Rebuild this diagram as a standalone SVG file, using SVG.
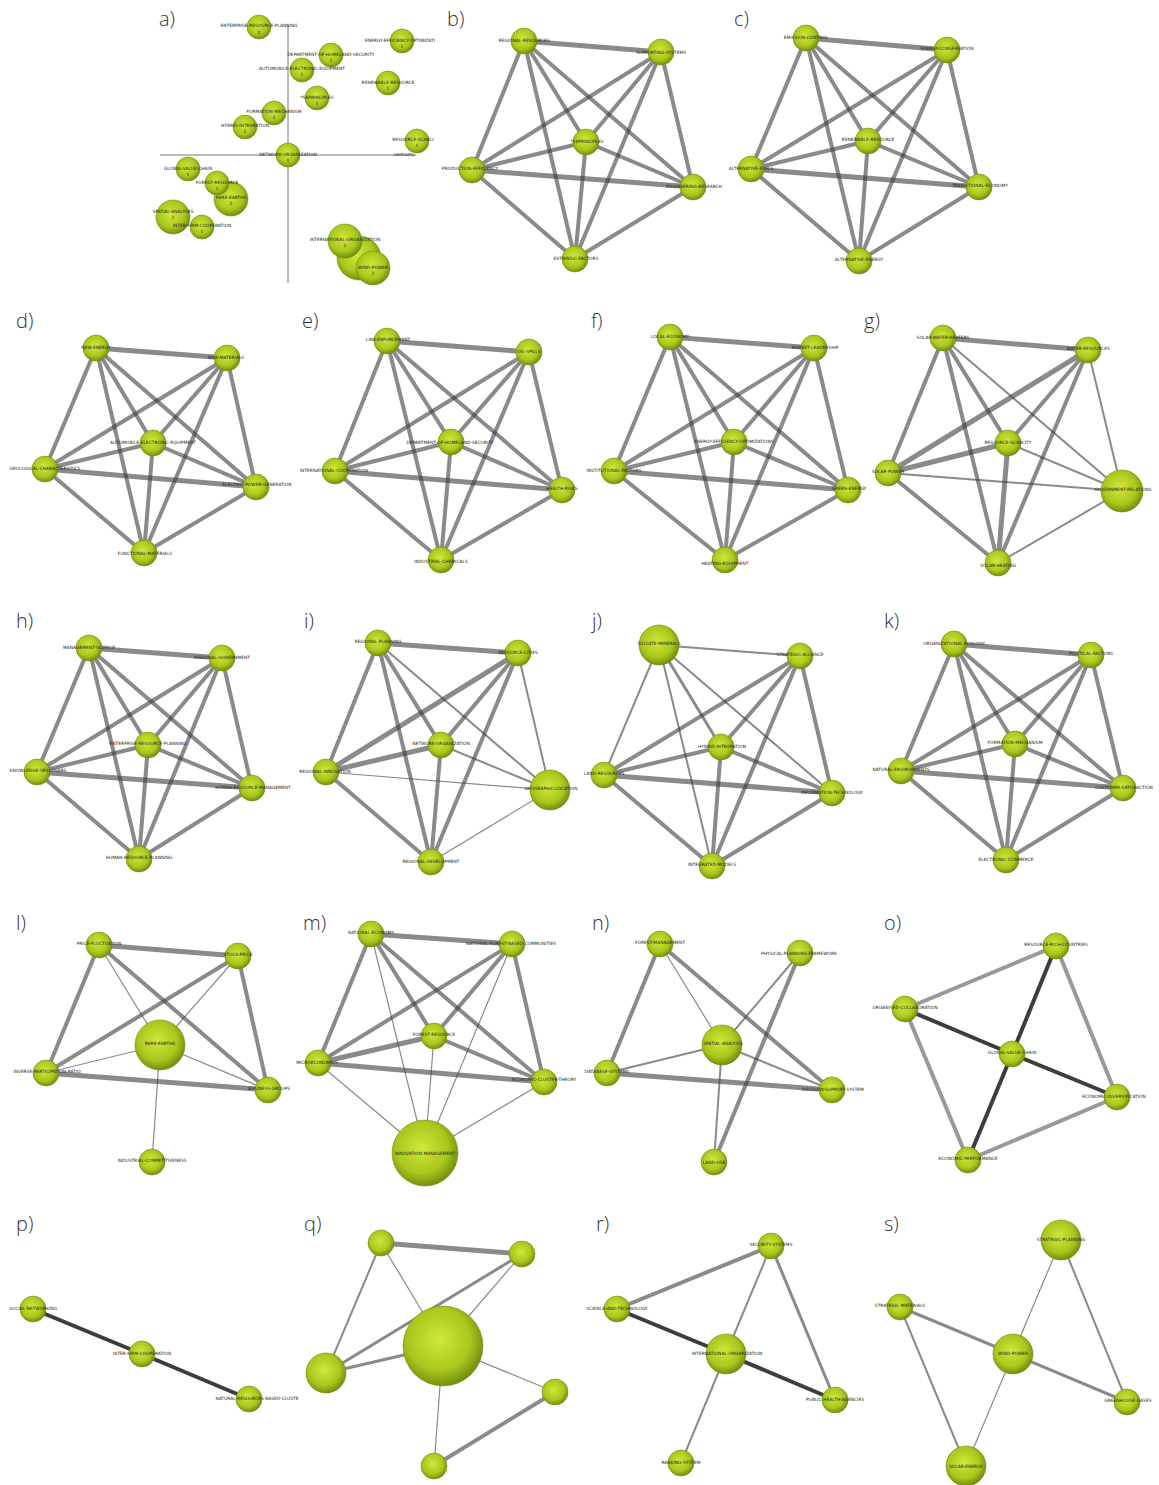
<svg xmlns="http://www.w3.org/2000/svg" width="1159" height="1485" viewBox="0 0 1159 1485">
<defs>
<radialGradient id="ball" cx="0.45" cy="0.42" r="0.6">
<stop offset="0" stop-color="#d0e83a"/>
<stop offset="0.65" stop-color="#a9c71c"/>
<stop offset="1" stop-color="#6c890e"/>
</radialGradient>
<style>
.n{fill:url(#ball);stroke:#72900f;stroke-width:0.6}
.t{font-family:"DejaVu Sans",sans-serif;font-size:4.4px;fill:#222;text-anchor:middle;dominant-baseline:central}
.p{font-family:"Open Sans","Noto Sans",sans-serif;font-size:20px;font-weight:300;fill:#333}
.e{stroke:#3c3c3c;stroke-opacity:0.6;stroke-linecap:round;stroke-width:4}
.e5{stroke-width:5}
.w{stroke-width:2}
.h{stroke-width:1.2}
.m{stroke-width:3}
.d{stroke:#333;stroke-opacity:0.95}
.g{stroke:#999;stroke-opacity:1}
.ax{stroke:#777;stroke-width:1}
</style>
</defs>
<rect width="1159" height="1485" fill="#fff"/>

<g id="panel-labels">
<text class="p" x="159" y="26">a)</text>
<text class="p" x="447" y="26">b)</text>
<text class="p" x="734" y="26">c)</text>
<text class="p" x="16" y="328">d)</text>
<text class="p" x="302" y="328">e)</text>
<text class="p" x="591" y="328">f)</text>
<text class="p" x="864" y="328">g)</text>
<text class="p" x="16" y="628">h)</text>
<text class="p" x="304" y="628">i)</text>
<text class="p" x="592" y="628">j)</text>
<text class="p" x="884" y="628">k)</text>
<text class="p" x="16" y="930">l)</text>
<text class="p" x="303" y="930">m)</text>
<text class="p" x="592" y="930">n)</text>
<text class="p" x="884" y="930">o)</text>
<text class="p" x="16" y="1231">p)</text>
<text class="p" x="304" y="1231">q)</text>
<text class="p" x="596" y="1231">r)</text>
<text class="p" x="884" y="1231">s)</text>
</g>

<!-- Panel a: strategic diagram -->
<g id="a-axes">
<line class="ax" x1="288" y1="25" x2="288" y2="283"/>
<line class="ax" x1="160" y1="155" x2="416" y2="155"/>
<text class="t" x="404" y="154">centrality</text>
</g>
<g id="a-hidden"><circle class="n" cx="359" cy="258" r="22"/></g>
<g id="a-erp"><circle class="n" cx="259" cy="27" r="12"/><text class="t" x="259" y="25">ENTERPRISE-RESOURCE-PLANNING</text><text class="t" x="259" y="32">1</text></g>
<g id="a-eeo"><circle class="n" cx="402" cy="41" r="12"/><text class="t" x="400" y="40">ENERGY-EFFICIENCY-OPTIMIZATI</text><text class="t" x="402" y="46">1</text></g>
<g id="a-dhs"><circle class="n" cx="331" cy="55" r="12"/><text class="t" x="331" y="54">DEPARTMENT-OF-HOMELAND-SECURITY</text><text class="t" x="331" y="60">1</text></g>
<g id="a-aee"><circle class="n" cx="302" cy="70" r="12"/><text class="t" x="302" y="68">AUTOMOBILE-ELECTRONIC-EQUIPMENT</text><text class="t" x="302" y="74">1</text></g>
<g id="a-rr"><circle class="n" cx="388" cy="83" r="12"/><text class="t" x="388" y="82">RENEWABLE-RESOURCE</text><text class="t" x="388" y="88">1</text></g>
<g id="a-5k"><circle class="n" cx="317" cy="98" r="12"/><text class="t" x="317" y="97">*5KPRINCIPLES</text><text class="t" x="317" y="103">1</text></g>
<g id="a-fm"><circle class="n" cx="274" cy="113" r="12"/><text class="t" x="274" y="111">FORMATION-MECHANISM</text><text class="t" x="274" y="117">1</text></g>
<g id="a-hi"><circle class="n" cx="245" cy="127" r="12"/><text class="t" x="245" y="125">HYBRID-INTEGRATION</text><text class="t" x="245" y="131">1</text></g>
<g id="a-rs"><circle class="n" cx="417" cy="141" r="12"/><text class="t" x="413" y="139">RESOURCE-SCARCI</text><text class="t" x="417" y="145">1</text></g>
<g id="a-no"><circle class="n" cx="288" cy="155" r="12"/><text class="t" x="288" y="154">NETWORK-ORGANIZATION</text><text class="t" x="288" y="160">1</text></g>
<g id="a-gvc"><circle class="n" cx="188" cy="169" r="12"/><text class="t" x="188" y="168">GLOBAL-VALUE-CHAIN</text><text class="t" x="188" y="174">1</text></g>
<g id="a-re"><circle class="n" cx="231" cy="199" r="17"/><text class="t" x="231" y="197">RARE-EARTHS</text><text class="t" x="231" y="203">2</text></g>
<g id="a-fr"><circle class="n" cx="217" cy="183" r="12"/><text class="t" x="217" y="182">FOREST-RESOURCE</text><text class="t" x="217" y="188">1</text></g>
<g id="a-sa"><circle class="n" cx="173" cy="217" r="17"/><text class="t" x="173" y="211">SPATIAL-ANALYSES</text><text class="t" x="173" y="217">2</text></g>
<g id="a-ifc"><circle class="n" cx="202" cy="227" r="12"/><text class="t" x="202" y="225">INTER-FIRM-COOPERATION</text><text class="t" x="202" y="231">1</text></g>
<g id="a-io"><circle class="n" cx="345" cy="241" r="17"/><text class="t" x="345" y="239">INTERNATIONAL-ORGANIZATION</text><text class="t" x="345" y="245">2</text></g>
<g id="a-wp"><circle class="n" cx="373" cy="268" r="17"/><text class="t" x="373" y="267">WIND-POWER</text><text class="t" x="373" y="273">2</text></g>

<!-- Panel b -->
<g id="b-edges">
<line class="e e5" x1="524" y1="41" x2="661" y2="52"/>
<line class="e" x1="524" y1="41" x2="586" y2="142"/>
<line class="e" x1="524" y1="41" x2="472" y2="170"/>
<line class="e" x1="524" y1="41" x2="693" y2="187"/>
<line class="e" x1="524" y1="41" x2="575" y2="259"/>
<line class="e" x1="661" y1="52" x2="586" y2="142"/>
<line class="e" x1="661" y1="52" x2="472" y2="170"/>
<line class="e" x1="661" y1="52" x2="693" y2="187"/>
<line class="e" x1="661" y1="52" x2="575" y2="259"/>
<line class="e" x1="586" y1="142" x2="472" y2="170"/>
<line class="e" x1="586" y1="142" x2="693" y2="187"/>
<line class="e" x1="586" y1="142" x2="575" y2="259"/>
<line class="e e5" x1="472" y1="170" x2="693" y2="187"/>
<line class="e" x1="472" y1="170" x2="575" y2="259"/>
<line class="e" x1="693" y1="187" x2="575" y2="259"/>
</g>
<g id="b-rr"><circle class="n" cx="524" cy="41" r="13"/><text class="t" x="524" y="40">REGIONAL-RESOURCES</text></g>
<g id="b-ss"><circle class="n" cx="661" cy="52" r="13"/><text class="t" x="661" y="52">SUPPORTING-SYSTEMS</text></g>
<g id="b-5k"><circle class="n" cx="586" cy="142" r="13"/><text class="t" x="587" y="141">*5KPRINCIPLES</text></g>
<g id="b-pe"><circle class="n" cx="472" cy="170" r="13"/><text class="t" x="470" y="168">PRODUCTION-EFFICIENCY</text></g>
<g id="b-er"><circle class="n" cx="693" cy="187" r="13"/><text class="t" x="694" y="186">ENGINEERING-RESEARCH</text></g>
<g id="b-ef"><circle class="n" cx="575" cy="259" r="13"/><text class="t" x="576" y="258">EXTRINSIC-FACTORS</text></g>

<!-- Panel c -->
<g id="c-edges">
<line class="e e5" x1="806" y1="38" x2="947" y2="50"/>
<line class="e" x1="806" y1="38" x2="868" y2="141"/>
<line class="e" x1="806" y1="38" x2="751" y2="169"/>
<line class="e" x1="806" y1="38" x2="979" y2="187"/>
<line class="e" x1="806" y1="38" x2="859" y2="261"/>
<line class="e" x1="947" y1="50" x2="868" y2="141"/>
<line class="e" x1="947" y1="50" x2="751" y2="169"/>
<line class="e" x1="947" y1="50" x2="979" y2="187"/>
<line class="e" x1="947" y1="50" x2="859" y2="261"/>
<line class="e" x1="868" y1="141" x2="751" y2="169"/>
<line class="e" x1="868" y1="141" x2="979" y2="187"/>
<line class="e" x1="868" y1="141" x2="859" y2="261"/>
<line class="e e5" x1="751" y1="169" x2="979" y2="187"/>
<line class="e" x1="751" y1="169" x2="859" y2="261"/>
<line class="e" x1="979" y1="187" x2="859" y2="261"/>
</g>
<g id="c-ec"><circle class="n" cx="806" cy="38" r="13"/><text class="t" x="806" y="37">EMISSION-CONTROL</text></g>
<g id="c-ecn"><circle class="n" cx="947" cy="50" r="13"/><text class="t" x="947" y="48">ENERGY-CONSERVATION</text></g>
<g id="c-rr"><circle class="n" cx="868" cy="141" r="13"/><text class="t" x="868" y="139">RENEWABLE-RESOURCE</text></g>
<g id="c-af"><circle class="n" cx="751" cy="169" r="13"/><text class="t" x="751" y="168">ALTERNATIVE-FUELS</text></g>
<g id="c-te"><circle class="n" cx="979" cy="187" r="13"/><text class="t" x="980" y="185">TRANSITIONAL-ECONOMY</text></g>
<g id="c-ae"><circle class="n" cx="859" cy="261" r="13"/><text class="t" x="859" y="259">ALTERNATIVE-ENERGY</text></g>

<!-- Panel d -->
<g id="d-edges">
<line class="e e5" x1="96" y1="348" x2="227" y2="358"/>
<line class="e" x1="96" y1="348" x2="153" y2="443"/>
<line class="e" x1="96" y1="348" x2="45" y2="469"/>
<line class="e" x1="96" y1="348" x2="256" y2="487"/>
<line class="e" x1="96" y1="348" x2="144" y2="553"/>
<line class="e" x1="227" y1="358" x2="153" y2="443"/>
<line class="e" x1="227" y1="358" x2="45" y2="469"/>
<line class="e" x1="227" y1="358" x2="256" y2="487"/>
<line class="e" x1="227" y1="358" x2="144" y2="553"/>
<line class="e" x1="153" y1="443" x2="45" y2="469"/>
<line class="e" x1="153" y1="443" x2="256" y2="487"/>
<line class="e" x1="153" y1="443" x2="144" y2="553"/>
<line class="e e5" x1="45" y1="469" x2="256" y2="487"/>
<line class="e" x1="45" y1="469" x2="144" y2="553"/>
<line class="e" x1="256" y1="487" x2="144" y2="553"/>
</g>
<g id="d-ne"><circle class="n" cx="96" cy="348" r="13"/><text class="t" x="96" y="347">NEW-ENERGY</text></g>
<g id="d-nm"><circle class="n" cx="227" cy="358" r="13"/><text class="t" x="226" y="357">NEW-MATERIALS</text></g>
<g id="d-aee"><circle class="n" cx="153" cy="443" r="13"/><text class="t" x="153" y="442">AUTOMOBILE-ELECTRONIC-EQUIPMENT</text></g>
<g id="d-gc"><circle class="n" cx="45" cy="469" r="13"/><text class="t" x="45" y="468">GEOLOGICAL-CHARACTERISTICS</text></g>
<g id="d-epg"><circle class="n" cx="256" cy="487" r="13"/><text class="t" x="257" y="484">ELECTRIC-POWER-GENERATION</text></g>
<g id="d-fm"><circle class="n" cx="144" cy="553" r="13"/><text class="t" x="145" y="553">FUNCTIONAL-MATERIALS</text></g>

<!-- Panel e -->
<g id="e-edges">
<line class="e e5" x1="387" y1="341" x2="529" y2="352"/>
<line class="e" x1="387" y1="341" x2="451" y2="442"/>
<line class="e" x1="387" y1="341" x2="335" y2="471"/>
<line class="e" x1="387" y1="341" x2="562" y2="490"/>
<line class="e" x1="387" y1="341" x2="441" y2="560"/>
<line class="e" x1="529" y1="352" x2="451" y2="442"/>
<line class="e" x1="529" y1="352" x2="335" y2="471"/>
<line class="e" x1="529" y1="352" x2="562" y2="490"/>
<line class="e" x1="529" y1="352" x2="441" y2="560"/>
<line class="e" x1="451" y1="442" x2="335" y2="471"/>
<line class="e" x1="451" y1="442" x2="562" y2="490"/>
<line class="e" x1="451" y1="442" x2="441" y2="560"/>
<line class="e e5" x1="335" y1="471" x2="562" y2="490"/>
<line class="e" x1="335" y1="471" x2="441" y2="560"/>
<line class="e" x1="562" y1="490" x2="441" y2="560"/>
</g>
<g id="e-le"><circle class="n" cx="387" cy="341" r="13"/><text class="t" x="388" y="339">LAW-ENFORCEMENT</text></g>
<g id="e-os"><circle class="n" cx="529" cy="352" r="13"/><text class="t" x="529" y="351">OIL-SPILLS</text></g>
<g id="e-dhs"><circle class="n" cx="451" cy="442" r="13"/><text class="t" x="450" y="442">DEPARTMENT-OF-HOMELAND-SECURITY</text></g>
<g id="e-ic"><circle class="n" cx="335" cy="471" r="13"/><text class="t" x="334" y="470">INTERNATIONAL-COOPERATION</text></g>
<g id="e-hr"><circle class="n" cx="562" cy="490" r="13"/><text class="t" x="562" y="488">HEALTH-RISKS</text></g>
<g id="e-ich"><circle class="n" cx="441" cy="560" r="13"/><text class="t" x="441" y="561">INDUSTRIAL-CHEMICALS</text></g>

<!-- Panel f -->
<g id="f-edges">
<line class="e e5" x1="670" y1="337" x2="814" y2="348"/>
<line class="e" x1="670" y1="337" x2="734" y2="442"/>
<line class="e" x1="670" y1="337" x2="614" y2="471"/>
<line class="e" x1="670" y1="337" x2="848" y2="490"/>
<line class="e" x1="670" y1="337" x2="725" y2="560"/>
<line class="e" x1="814" y1="348" x2="734" y2="442"/>
<line class="e" x1="814" y1="348" x2="614" y2="471"/>
<line class="e" x1="814" y1="348" x2="848" y2="490"/>
<line class="e" x1="814" y1="348" x2="725" y2="560"/>
<line class="e" x1="734" y1="442" x2="614" y2="471"/>
<line class="e" x1="734" y1="442" x2="848" y2="490"/>
<line class="e" x1="734" y1="442" x2="725" y2="560"/>
<line class="e e5" x1="614" y1="471" x2="848" y2="490"/>
<line class="e" x1="614" y1="471" x2="725" y2="560"/>
<line class="e" x1="848" y1="490" x2="725" y2="560"/>
</g>
<g id="f-le"><circle class="n" cx="670" cy="337" r="13"/><text class="t" x="670" y="336">LOCAL-ECONOMY</text></g>
<g id="f-ml"><circle class="n" cx="814" cy="348" r="13"/><text class="t" x="815" y="347">MARKET-LEADERSHIP</text></g>
<g id="f-eeo"><circle class="n" cx="734" cy="442" r="13"/><text class="t" x="734" y="441">ENERGY-EFFICIENCY-OPTIMIZATIONS</text></g>
<g id="f-if"><circle class="n" cx="614" cy="471" r="13"/><text class="t" x="614" y="470">INSTITUTIONAL-FACTORS</text></g>
<g id="f-ge"><circle class="n" cx="848" cy="490" r="13"/><text class="t" x="849" y="488">GREEN-ENERGY</text></g>
<g id="f-he"><circle class="n" cx="725" cy="560" r="13"/><text class="t" x="725" y="563">HEATING-EQUIPMENT</text></g>

<!-- Panel g -->
<g id="g-edges">
<line class="e e5" x1="943" y1="338" x2="1088" y2="350"/>
<line class="e" x1="943" y1="338" x2="1008" y2="443"/>
<line class="e" x1="943" y1="338" x2="888" y2="473"/>
<line class="e w" x1="943" y1="338" x2="1122" y2="491"/>
<line class="e" x1="943" y1="338" x2="998" y2="563"/>
<line class="e" x1="1088" y1="350" x2="1008" y2="443"/>
<line class="e e5" x1="1088" y1="350" x2="888" y2="473"/>
<line class="e w" x1="1088" y1="350" x2="1122" y2="491"/>
<line class="e" x1="1088" y1="350" x2="998" y2="563"/>
<line class="e e5" x1="1008" y1="443" x2="888" y2="473"/>
<line class="e w" x1="1008" y1="443" x2="1122" y2="491"/>
<line class="e e5" x1="1008" y1="443" x2="998" y2="563"/>
<line class="e w" x1="888" y1="473" x2="1122" y2="491"/>
<line class="e" x1="888" y1="473" x2="998" y2="563"/>
<line class="e w" x1="1122" y1="491" x2="998" y2="563"/>
</g>
<g id="g-swh"><circle class="n" cx="943" cy="338" r="13"/><text class="t" x="943" y="337">SOLAR-WATER-HEATERS</text></g>
<g id="g-wr"><circle class="n" cx="1088" cy="350" r="13"/><text class="t" x="1088" y="348">WATER-RESOURCES</text></g>
<g id="g-rs"><circle class="n" cx="1008" cy="443" r="13"/><text class="t" x="1008" y="442">RESOURCE-SCARCITY</text></g>
<g id="g-sp"><circle class="n" cx="888" cy="473" r="13"/><text class="t" x="888" y="471">SOLAR-POWER</text></g>
<g id="g-gr"><circle class="n" cx="1122" cy="491" r="21"/><text class="t" x="1123" y="489">GOVERNMENT-RELATIONS</text></g>
<g id="g-sh"><circle class="n" cx="998" cy="563" r="13"/><text class="t" x="998" y="565">SOLAR-HEATING</text></g>

<!-- Panel h -->
<g id="h-edges">
<line class="e e5" x1="89" y1="648" x2="222" y2="658"/>
<line class="e" x1="89" y1="648" x2="148" y2="745"/>
<line class="e" x1="89" y1="648" x2="37" y2="772"/>
<line class="e" x1="89" y1="648" x2="252" y2="788"/>
<line class="e" x1="89" y1="648" x2="139" y2="859"/>
<line class="e" x1="222" y1="658" x2="148" y2="745"/>
<line class="e" x1="222" y1="658" x2="37" y2="772"/>
<line class="e" x1="222" y1="658" x2="252" y2="788"/>
<line class="e" x1="222" y1="658" x2="139" y2="859"/>
<line class="e" x1="148" y1="745" x2="37" y2="772"/>
<line class="e" x1="148" y1="745" x2="252" y2="788"/>
<line class="e" x1="148" y1="745" x2="139" y2="859"/>
<line class="e e5" x1="37" y1="772" x2="252" y2="788"/>
<line class="e" x1="37" y1="772" x2="139" y2="859"/>
<line class="e" x1="252" y1="788" x2="139" y2="859"/>
</g>
<g id="h-ms"><circle class="n" cx="89" cy="648" r="13"/><text class="t" x="89" y="647">MANAGEMENT-SCIENCE</text></g>
<g id="h-rg"><circle class="n" cx="222" cy="658" r="13"/><text class="t" x="222" y="657">REGIONAL-GOVERNMENT</text></g>
<g id="h-erp"><circle class="n" cx="148" cy="745" r="13"/><text class="t" x="148" y="743">ENTERPRISE-RESOURCE-PLANNING</text></g>
<g id="h-ks"><circle class="n" cx="37" cy="772" r="13"/><text class="t" x="38" y="770">KNOWLEDGE-SPILLOVERS</text></g>
<g id="h-hrm"><circle class="n" cx="252" cy="788" r="13"/><text class="t" x="253" y="787">HUMAN-RESOURCE-MANAGEMENT</text></g>
<g id="h-hrp"><circle class="n" cx="139" cy="859" r="13"/><text class="t" x="139" y="857">HUMAN-RESOURCE-PLANNING</text></g>

<!-- Panel i -->
<g id="i-edges">
<line class="e e5" x1="378" y1="643" x2="518" y2="653"/>
<line class="e" x1="378" y1="643" x2="441" y2="745"/>
<line class="e" x1="378" y1="643" x2="326" y2="772"/>
<line class="e w" x1="378" y1="643" x2="550" y2="790"/>
<line class="e" x1="378" y1="643" x2="431" y2="862"/>
<line class="e" x1="518" y1="653" x2="441" y2="745"/>
<line class="e e5" x1="518" y1="653" x2="326" y2="772"/>
<line class="e w" x1="518" y1="653" x2="550" y2="790"/>
<line class="e" x1="518" y1="653" x2="431" y2="862"/>
<line class="e e5" x1="441" y1="745" x2="326" y2="772"/>
<line class="e w" x1="441" y1="745" x2="550" y2="790"/>
<line class="e" x1="441" y1="745" x2="431" y2="862"/>
<line class="e h" x1="326" y1="772" x2="550" y2="790"/>
<line class="e" x1="326" y1="772" x2="431" y2="862"/>
<line class="e h" x1="550" y1="790" x2="431" y2="862"/>
</g>
<g id="i-rp"><circle class="n" cx="378" cy="643" r="13"/><text class="t" x="378" y="641">REGIONAL-PLANNING</text></g>
<g id="i-rc"><circle class="n" cx="518" cy="653" r="13"/><text class="t" x="518" y="652">RESOURCE-CITIES</text></g>
<g id="i-no"><circle class="n" cx="441" cy="745" r="13"/><text class="t" x="441" y="743">NETWORK-ORGANIZATION</text></g>
<g id="i-ri"><circle class="n" cx="326" cy="772" r="13"/><text class="t" x="325" y="771">REGIONAL-INNOVATION</text></g>
<g id="i-gl"><circle class="n" cx="550" cy="790" r="20"/><text class="t" x="551" y="788">GEOGRAPHIC-LOCATION</text></g>
<g id="i-rd"><circle class="n" cx="431" cy="862" r="13"/><text class="t" x="431" y="861">REGIONAL-DEVELOPMENT</text></g>

<!-- Panel j -->
<g id="j-edges">
<line class="e w" x1="659" y1="645" x2="800" y2="656"/>
<line class="e m" x1="659" y1="645" x2="721" y2="747"/>
<line class="e w" x1="659" y1="645" x2="604" y2="775"/>
<line class="e w" x1="659" y1="645" x2="832" y2="793"/>
<line class="e w" x1="659" y1="645" x2="712" y2="866"/>
<line class="e" x1="800" y1="656" x2="721" y2="747"/>
<line class="e" x1="800" y1="656" x2="604" y2="775"/>
<line class="e" x1="800" y1="656" x2="832" y2="793"/>
<line class="e" x1="800" y1="656" x2="712" y2="866"/>
<line class="e" x1="721" y1="747" x2="604" y2="775"/>
<line class="e" x1="721" y1="747" x2="832" y2="793"/>
<line class="e" x1="721" y1="747" x2="712" y2="866"/>
<line class="e e5" x1="604" y1="775" x2="832" y2="793"/>
<line class="e" x1="604" y1="775" x2="712" y2="866"/>
<line class="e" x1="832" y1="793" x2="712" y2="866"/>
</g>
<g id="j-sm"><circle class="n" cx="659" cy="645" r="20"/><text class="t" x="659" y="643">SILICATE-MINERALS</text></g>
<g id="j-sa"><circle class="n" cx="800" cy="656" r="13"/><text class="t" x="800" y="654">STRATEGIC-ALLIANCE</text></g>
<g id="j-hi"><circle class="n" cx="721" cy="747" r="13"/><text class="t" x="722" y="746">HYBRID-INTEGRATION</text></g>
<g id="j-lr"><circle class="n" cx="604" cy="775" r="13"/><text class="t" x="604" y="773">LAND-RESOURCES</text></g>
<g id="j-it"><circle class="n" cx="832" cy="793" r="13"/><text class="t" x="832" y="792">INFORMATION-TECHNOLOGY</text></g>
<g id="j-im"><circle class="n" cx="712" cy="866" r="13"/><text class="t" x="712" y="864">INTEGRATED-MODELS</text></g>

<!-- Panel k -->
<g id="k-edges">
<line class="e e5" x1="954" y1="644" x2="1091" y2="655"/>
<line class="e" x1="954" y1="644" x2="1015" y2="744"/>
<line class="e" x1="954" y1="644" x2="901" y2="771"/>
<line class="e" x1="954" y1="644" x2="1123" y2="788"/>
<line class="e" x1="954" y1="644" x2="1006" y2="860"/>
<line class="e" x1="1091" y1="655" x2="1015" y2="744"/>
<line class="e" x1="1091" y1="655" x2="901" y2="771"/>
<line class="e" x1="1091" y1="655" x2="1123" y2="788"/>
<line class="e" x1="1091" y1="655" x2="1006" y2="860"/>
<line class="e" x1="1015" y1="744" x2="901" y2="771"/>
<line class="e" x1="1015" y1="744" x2="1123" y2="788"/>
<line class="e" x1="1015" y1="744" x2="1006" y2="860"/>
<line class="e e5" x1="901" y1="771" x2="1123" y2="788"/>
<line class="e" x1="901" y1="771" x2="1006" y2="860"/>
<line class="e" x1="1123" y1="788" x2="1006" y2="860"/>
</g>
<g id="k-oe"><circle class="n" cx="954" cy="644" r="13"/><text class="t" x="954" y="643">ORGANIZATIONAL-ECOLOGY</text></g>
<g id="k-pf"><circle class="n" cx="1091" cy="655" r="13"/><text class="t" x="1091" y="653">POLITICAL-FACTORS</text></g>
<g id="k-fm"><circle class="n" cx="1015" cy="744" r="13"/><text class="t" x="1015" y="742">FORMATION-MECHANISM</text></g>
<g id="k-ne"><circle class="n" cx="901" cy="771" r="13"/><text class="t" x="901" y="769">NATURAL-ENVIRONMENTS</text></g>
<g id="k-cs"><circle class="n" cx="1123" cy="788" r="13"/><text class="t" x="1124" y="787">CUSTOMER-SATISFACTION</text></g>
<g id="k-ec"><circle class="n" cx="1006" cy="860" r="13"/><text class="t" x="1006" y="859">ELECTRONIC-COMMERCE</text></g>

<!-- Panel l -->
<g id="l-edges">
<line class="e e5" x1="99" y1="945" x2="238" y2="956"/>
<line class="e" x1="99" y1="945" x2="46" y2="1073"/>
<line class="e h" x1="99" y1="945" x2="160" y2="1045"/>
<line class="e" x1="99" y1="945" x2="268" y2="1090"/>
<line class="e" x1="238" y1="956" x2="46" y2="1073"/>
<line class="e h" x1="238" y1="956" x2="160" y2="1045"/>
<line class="e" x1="238" y1="956" x2="268" y2="1090"/>
<line class="e h" x1="160" y1="1045" x2="46" y2="1073"/>
<line class="e h" x1="160" y1="1045" x2="268" y2="1090"/>
<line class="e e5" x1="46" y1="1073" x2="268" y2="1090"/>
<line class="e h" x1="160" y1="1045" x2="152" y2="1162"/>
</g>
<g id="l-pf"><circle class="n" cx="99" cy="945" r="13"/><text class="t" x="99" y="943">PRICE-FLUCTUATION</text></g>
<g id="l-sp"><circle class="n" cx="238" cy="956" r="13"/><text class="t" x="238" y="954">STOCK-PRICE</text></g>
<g id="l-re"><circle class="n" cx="160" cy="1045" r="25"/><text class="t" x="160" y="1043">RARE-EARTHS</text></g>
<g id="l-ipr"><circle class="n" cx="46" cy="1073" r="13"/><text class="t" x="47" y="1071">INVERSE-PARTICIPATION-RATIO</text></g>
<g id="l-bg"><circle class="n" cx="268" cy="1090" r="13"/><text class="t" x="269" y="1088">BUSINESS-GROUPS</text></g>
<g id="l-ic"><circle class="n" cx="152" cy="1162" r="13"/><text class="t" x="152" y="1160">INDUSTRIAL-COMPETITIVENESS</text></g>

<!-- Panel m -->
<g id="m-edges">
<line class="e e5" x1="371" y1="934" x2="512" y2="944"/>
<line class="e" x1="371" y1="934" x2="434" y2="1036"/>
<line class="e" x1="371" y1="934" x2="318" y2="1063"/>
<line class="e" x1="371" y1="934" x2="544" y2="1082"/>
<line class="e h" x1="371" y1="934" x2="425" y2="1153"/>
<line class="e" x1="512" y1="944" x2="434" y2="1036"/>
<line class="e" x1="512" y1="944" x2="318" y2="1063"/>
<line class="e" x1="512" y1="944" x2="544" y2="1082"/>
<line class="e h" x1="512" y1="944" x2="425" y2="1153"/>
<line class="e e5" x1="434" y1="1036" x2="318" y2="1063"/>
<line class="e" x1="434" y1="1036" x2="544" y2="1082"/>
<line class="e h" x1="434" y1="1036" x2="425" y2="1153"/>
<line class="e e5" x1="318" y1="1063" x2="544" y2="1082"/>
<line class="e h" x1="318" y1="1063" x2="425" y2="1153"/>
<line class="e h" x1="544" y1="1082" x2="425" y2="1153"/>
</g>
<g id="m-ne"><circle class="n" cx="371" cy="934" r="13"/><text class="t" x="371" y="932">NATIONAL-ECONOMY</text></g>
<g id="m-nfbc"><circle class="n" cx="512" cy="944" r="13"/><text class="t" x="511" y="943">NATIONAL-FOREST-BASED-COMMUNITIES</text></g>
<g id="m-fr"><circle class="n" cx="434" cy="1036" r="13"/><text class="t" x="434" y="1034">FOREST-RESOURCE</text></g>
<g id="m-mi"><circle class="n" cx="318" cy="1063" r="13"/><text class="t" x="317" y="1062">MICROECONOMICS</text></g>
<g id="m-ect"><circle class="n" cx="544" cy="1082" r="13"/><text class="t" x="544" y="1079">ECONOMIC-CLUSTER-THEORY</text></g>
<g id="m-im"><circle class="n" cx="425" cy="1153" r="33"/><text class="t" x="425" y="1153">INNOVATION MANAGEMENT</text></g>

<!-- Panel n -->
<g id="n-edges">
<line class="e" x1="660" y1="944" x2="607" y2="1073"/>
<line class="e h" x1="660" y1="944" x2="722" y2="1045"/>
<line class="e" x1="660" y1="944" x2="832" y2="1090"/>
<line class="e w" x1="800" y1="953" x2="722" y2="1045"/>
<line class="e" x1="800" y1="953" x2="714" y2="1162"/>
<line class="e w" x1="722" y1="1045" x2="607" y2="1073"/>
<line class="e w" x1="722" y1="1045" x2="832" y2="1090"/>
<line class="e w" x1="722" y1="1045" x2="714" y2="1162"/>
<line class="e e5" x1="607" y1="1073" x2="832" y2="1090"/>
</g>
<g id="n-fm"><circle class="n" cx="660" cy="944" r="13"/><text class="t" x="660" y="942">FOREST-MANAGEMENT</text></g>
<g id="n-ppf"><circle class="n" cx="800" cy="953" r="13"/><text class="t" x="799" y="953">PHYSICAL-PLANNING-FRAMEWORK</text></g>
<g id="n-sa"><circle class="n" cx="722" cy="1045" r="20"/><text class="t" x="723" y="1043">SPATIAL-ANALYSIS</text></g>
<g id="n-db"><circle class="n" cx="607" cy="1073" r="13"/><text class="t" x="607" y="1071">DATABASE-SYSTEMS</text></g>
<g id="n-dss"><circle class="n" cx="832" cy="1090" r="13"/><text class="t" x="833" y="1089">DECISION-SUPPORT-SYSTEM</text></g>
<g id="n-lu"><circle class="n" cx="714" cy="1162" r="13"/><text class="t" x="714" y="1162">LAND-USE</text></g>

<!-- Panel o -->
<g id="o-edges">
<line class="e g" x1="1056" y1="946" x2="905" y2="1009"/>
<line class="e d" x1="1056" y1="946" x2="1012" y2="1054"/>
<line class="e g" x1="1056" y1="946" x2="1117" y2="1097"/>
<line class="e d" x1="905" y1="1009" x2="1012" y2="1054"/>
<line class="e g" x1="905" y1="1009" x2="968" y2="1160"/>
<line class="e d" x1="1012" y1="1054" x2="1117" y2="1097"/>
<line class="e d" x1="1012" y1="1054" x2="968" y2="1160"/>
<line class="e g" x1="1117" y1="1097" x2="968" y2="1160"/>
</g>
<g id="o-rrc"><circle class="n" cx="1056" cy="946" r="13"/><text class="t" x="1056" y="944">RESOURCE-RICH-COUNTRIES</text></g>
<g id="o-oc"><circle class="n" cx="905" cy="1009" r="13"/><text class="t" x="905" y="1007">ORGANISED-COLLABORATION</text></g>
<g id="o-gvc"><circle class="n" cx="1012" cy="1054" r="13"/><text class="t" x="1012" y="1052">GLOBAL-VALUE-CHAIN</text></g>
<g id="o-ed"><circle class="n" cx="1117" cy="1097" r="13"/><text class="t" x="1114" y="1096">ECONOMIC-DIVERSIFICATION</text></g>
<g id="o-ep"><circle class="n" cx="968" cy="1160" r="13"/><text class="t" x="968" y="1158">ECONOMIC-PERFORMANCE</text></g>

<!-- Panel p -->
<g id="p-edges">
<line class="e d" x1="33" y1="1309" x2="142" y2="1354"/>
<line class="e d" x1="142" y1="1354" x2="249" y2="1399"/>
</g>
<g id="p-sn"><circle class="n" cx="33" cy="1309" r="13"/><text class="t" x="33" y="1308">SOCIAL-NETWORKING</text></g>
<g id="p-ifc"><circle class="n" cx="142" cy="1354" r="13"/><text class="t" x="142" y="1353">INTER-FIRM-COOPERATION</text></g>
<g id="p-nrbc"><circle class="n" cx="249" cy="1399" r="13"/><text class="t" x="257" y="1398">NATURAL-RESOURCES-BASED-CLUSTE</text></g>

<!-- Panel q -->
<g id="q-edges">
<line class="e e5" x1="381" y1="1243" x2="522" y2="1254"/>
<line class="e w" x1="381" y1="1243" x2="326" y2="1373"/>
<line class="e h" x1="381" y1="1243" x2="443" y2="1346"/>
<line class="e m" x1="522" y1="1254" x2="326" y2="1373"/>
<line class="e h" x1="522" y1="1254" x2="443" y2="1346"/>
<line class="e m" x1="326" y1="1373" x2="443" y2="1346"/>
<line class="e h" x1="443" y1="1346" x2="555" y2="1392"/>
<line class="e h" x1="443" y1="1346" x2="434" y2="1466"/>
<line class="e" x1="555" y1="1392" x2="434" y2="1466"/>
</g>
<g id="q-n1"><circle class="n" cx="381" cy="1243" r="13"/></g>
<g id="q-n2"><circle class="n" cx="522" cy="1254" r="13"/></g>
<g id="q-n3"><circle class="n" cx="443" cy="1346" r="40"/></g>
<g id="q-n4"><circle class="n" cx="326" cy="1373" r="20"/></g>
<g id="q-n5"><circle class="n" cx="555" cy="1392" r="13"/></g>
<g id="q-n6"><circle class="n" cx="434" cy="1466" r="13"/></g>

<!-- Panel r -->
<g id="r-edges">
<line class="e" x1="771" y1="1246" x2="617" y2="1309"/>
<line class="e w" x1="771" y1="1246" x2="726" y2="1354"/>
<line class="e m" x1="771" y1="1246" x2="835" y2="1400"/>
<line class="e d" x1="617" y1="1309" x2="726" y2="1354"/>
<line class="e d" x1="726" y1="1354" x2="835" y2="1400"/>
<line class="e w" x1="726" y1="1354" x2="681" y2="1463"/>
</g>
<g id="r-ss"><circle class="n" cx="771" cy="1246" r="13"/><text class="t" x="771" y="1244">SECURITY-SYSTEMS</text></g>
<g id="r-st"><circle class="n" cx="617" cy="1309" r="13"/><text class="t" x="617" y="1308">SCIENCE-AND-TECHNOLOGY</text></g>
<g id="r-io"><circle class="n" cx="726" cy="1354" r="20"/><text class="t" x="727" y="1353">INTERNATIONAL-ORGANIZATION</text></g>
<g id="r-pha"><circle class="n" cx="835" cy="1400" r="13"/><text class="t" x="835" y="1399">PUBLIC-HEALTH-AGENCIES</text></g>
<g id="r-rs"><circle class="n" cx="681" cy="1463" r="13"/><text class="t" x="681" y="1462">RANKING-SYSTEM</text></g>

<!-- Panel s -->
<g id="s-edges">
<line class="e h" x1="1061" y1="1240" x2="1013" y2="1354"/>
<line class="e w" x1="1061" y1="1240" x2="1127" y2="1402"/>
<line class="e m" x1="900" y1="1307" x2="1013" y2="1354"/>
<line class="e w" x1="900" y1="1307" x2="966" y2="1466"/>
<line class="e m" x1="1013" y1="1354" x2="1127" y2="1402"/>
<line class="e h" x1="1013" y1="1354" x2="966" y2="1466"/>
</g>
<g id="s-sp"><circle class="n" cx="1061" cy="1240" r="20"/><text class="t" x="1061" y="1239">STRATEGIC-PLANNING</text></g>
<g id="s-sm"><circle class="n" cx="900" cy="1307" r="13"/><text class="t" x="900" y="1305">STRATEGIC-MATERIALS</text></g>
<g id="s-wp"><circle class="n" cx="1013" cy="1354" r="20"/><text class="t" x="1013" y="1353">WIND-POWER</text></g>
<g id="s-gg"><circle class="n" cx="1127" cy="1402" r="13"/><text class="t" x="1128" y="1400">GREENHOUSE-GASES</text></g>
<g id="s-se"><circle class="n" cx="966" cy="1466" r="20"/><text class="t" x="966" y="1466">SOLAR-ENERGY</text></g>
</svg>
